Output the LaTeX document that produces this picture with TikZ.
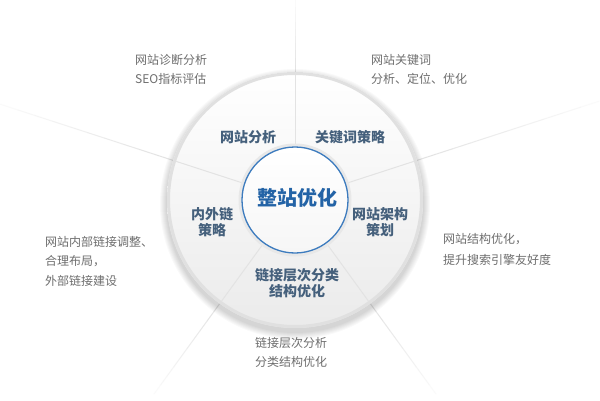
\documentclass[tikz,border=0pt]{standalone}
\usepackage{fontspec}
\newfontfamily\cjk{Noto Sans CJK SC}
\usetikzlibrary{calc}
\definecolor{seglbl}{HTML}{45607C}
\definecolor{ctrblue}{HTML}{2363A6}
\definecolor{outtxt}{HTML}{6E6E6E}
\definecolor{ringblue}{HTML}{3C7BBE}
\begin{document}
\begin{tikzpicture}[x=1pt,y=1pt,
  outer/.style={font=\cjk\fontsize{12}{19.5}\selectfont, text=outtxt, align=left, anchor=north west, inner sep=0pt},
  seglabel/.style={font=\cjk\bfseries\fontsize{14}{16}\selectfont, text=seglbl, align=center, inner sep=0pt},
  centerlabel/.style={font=\cjk\bfseries\fontsize{20}{22}\selectfont, text=ctrblue, inner sep=0pt},
  innerspoke/.style={gray!22, line width=1pt}]
\fill[white] (0,0) rectangle (600,400);
\useasboundingbox (0,0) rectangle (600,400);
\coordinate (c) at (295,200);
% outer spokes, fading outward
\foreach \a/\len in {90/200, 162/310, 18/320, 234/240, 306/240} {
  \foreach \i [evaluate=\i as \g using 22-2*\i, evaluate=\i as \ra using 128+\i*(\len-128)/10, evaluate=\i as \rb using 128+(\i+1)*(\len-128)/10] in {0,...,9} {
    \draw[line width=1pt, color=gray!\g] ($(c)+(\a:\ra)$) -- ($(c)+(\a:\rb)$);
  }
}
% soft shadow of disc
\foreach \k in {7,6,...,1} {
  \fill[black, opacity=0.022] (295,196) circle (128+\k);
}
% disc
\shade[top color=white, bottom color=gray!16] (c) circle (128);
\draw[gray!24, line width=3pt] (c) circle (126.5);
% inner spokes
\foreach \a in {90,162,18,234,306} {
  \draw[innerspoke] ($(c)+(\a:55)$) -- ($(c)+(\a:125)$);
}
% inner circle
\fill[gray!18] (c) circle (56.5);
\shade[top color=white, bottom color=gray!7] (c) circle (53);
\draw[ringblue, line width=1.3pt] (c) circle (53);
% labels in the disc
\node[centerlabel] (zz) at (297,202) {整站优化};
\node[seglabel] (wzfx) at (248,263) {网站分析};
\node[seglabel] (gjc) at (350,263) {关键词策略};
\node[seglabel] (nwl) at (212,178) {内外链\\策略};
\node[seglabel] (jg) at (380,178) {网站架构\\策划};
\node[seglabel] (lj) at (297,117) {链接层次分类\\结构优化};
% outer descriptions
\node[outer] (ta) at (135,346) {网站诊断分析\\SEO指标评估};
\node[outer] (tb) at (371,346) {网站关键词\\分析、定位、优化};
\node[outer] (tc) at (45,164) {网站内部链接调整、\\合理布局，\\外部链接建设};
\node[outer, font=\cjk\fontsize{12}{21}\selectfont] (td) at (443,167) {网站结构优化，\\提升搜索引擎友好度};
\node[outer] (te) at (255,63) {链接层次分析\\分类结构优化};
\end{tikzpicture}
\end{document}
